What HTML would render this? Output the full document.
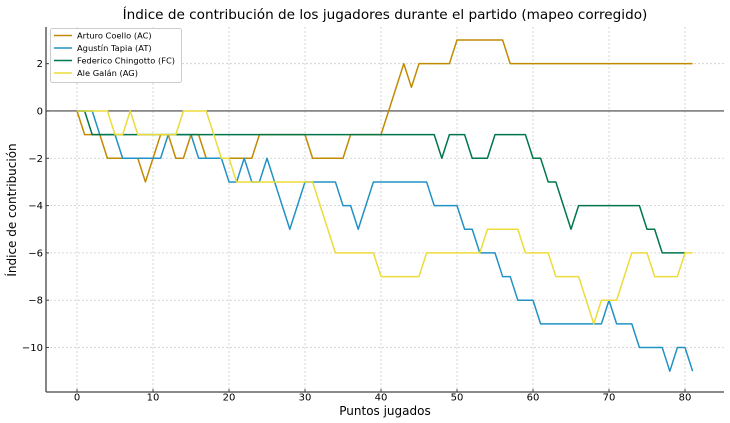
<!DOCTYPE html>
<html><head><meta charset="utf-8"><style>
body{margin:0;background:#fff;}
svg{display:block;font-family:"DejaVu Sans","Liberation Sans",sans-serif;}
</style></head><body>
<svg id="chart" width="730" height="423" viewBox="0 0 730 423">
<text x="385" y="19" text-anchor="middle" font-size="13.6" fill="#000">Índice de contribución de los jugadores durante el partido (mapeo corregido)</text>
<g id="grid"></g>
<g id="axes"></g>
<g id="series"></g>
<text x="385" y="415" text-anchor="middle" font-size="12">Puntos jugados</text>
<text transform="translate(16,210) rotate(-90)" text-anchor="middle" font-size="12">Índice de contribución</text>
<g id="legend"></g>
</svg>
<script>
const xTicks = [0,10,20,30,40,50,60,70,80];
const yTicks = [2,0,-2,-4,-6,-8,-10];
const seriesNames = ["Arturo Coello (AC)","Agustín Tapia (AT)","Federico Chingotto (FC)","Ale Galán (AG)"];
const acValues = [0,-1,-1,-1,-2,-2,-2,-2,-2,-3,-2,-1,-1,-2,-2,-1,-1,-2,-2,-2,-2,-2,-2,-2,-1,-1,-1,-1,-1,-1,-1,-2,-2,-2,-2,-2,-1,-1,-1,-1,-1,0,1,2,1,2,2,2,2,2,3,3,3,3,3,3,3,2,2,2,2,2,2,2,2,2,2,2,2,2,2,2,2,2,2,2,2,2,2,2,2,2];
const atValues = [0,0,0,-1,-1,-1,-2,-2,-2,-2,-2,-2,-1,-1,-1,-1,-2,-2,-2,-2,-3,-3,-2,-3,-3,-2,-3,-4,-5,-4,-3,-3,-3,-3,-3,-4,-4,-5,-4,-3,-3,-3,-3,-3,-3,-3,-3,-4,-4,-4,-4,-5,-5,-6,-6,-6,-7,-7,-8,-8,-8,-9,-9,-9,-9,-9,-9,-9,-9,-9,-8,-9,-9,-9,-10,-10,-10,-10,-11,-10,-10,-11];
const fcValues = [0,0,-1,-1,-1,-1,-1,-1,-1,-1,-1,-1,-1,-1,-1,-1,-1,-1,-1,-1,-1,-1,-1,-1,-1,-1,-1,-1,-1,-1,-1,-1,-1,-1,-1,-1,-1,-1,-1,-1,-1,-1,-1,-1,-1,-1,-1,-1,-2,-1,-1,-1,-2,-2,-2,-1,-1,-1,-1,-1,-2,-2,-3,-3,-4,-5,-4,-4,-4,-4,-4,-4,-4,-4,-4,-5,-5,-6,-6,-6,-6];
const agValues = [0,0,0,0,0,-1,-1,0,-1,-1,-1,-1,-1,-1,0,0,0,0,-1,-2,-2,-3,-3,-3,-3,-3,-3,-3,-3,-3,-3,-3,-4,-5,-6,-6,-6,-6,-6,-6,-7,-7,-7,-7,-7,-7,-6,-6,-6,-6,-6,-6,-6,-6,-5,-5,-5,-5,-5,-6,-6,-6,-6,-7,-7,-7,-7,-8,-9,-8,-8,-8,-7,-6,-6,-6,-7,-7,-7,-7,-6,-6];
const allSeries = [acValues, atValues, fcValues, agValues];
const colors = ["#c08b00","#2192c4","#00774a","#ecdc3a"];
const NS="http://www.w3.org/2000/svg";
const L=46,R=724,T=27,B=392;
const xMin=-4.08,xMax=85.13,yMin=-11.88,yMax=3.55;
function sx(v){return L+(v-xMin)/(xMax-xMin)*(R-L);}
function sy(v){return B-(v-yMin)/(yMax-yMin)*(B-T);}
function mk(tag,attrs,parent){const e=document.createElementNS(NS,tag);for(const k in attrs)e.setAttribute(k,attrs[k]);parent.appendChild(e);return e;}
const grid=document.getElementById('grid'),axes=document.getElementById('axes'),ser=document.getElementById('series'),leg=document.getElementById('legend');
xTicks.forEach(t=>{
 const g=mk('line',{x1:sx(t),x2:sx(t),y1:T,y2:B,stroke:'#ccc','stroke-dasharray':'2,2','stroke-width':0.8},grid);
 
 
 const tk=mk('line',{x1:sx(t),x2:sx(t),y1:B-3,y2:B,stroke:'#444'},axes);
 
 
 const lb=mk('text',{x:sx(t),y:B+8.5,'text-anchor':'middle','font-size':10},axes);
 lb.textContent=t;
 
 
});
yTicks.forEach(t=>{
 const g=mk('line',{x1:L,x2:R,y1:sy(t),y2:sy(t),stroke:'#ccc','stroke-dasharray':'2,2','stroke-width':0.8},grid);
 
 
 const tk=mk('line',{x1:L,x2:L+3,y1:sy(t),y2:sy(t),stroke:'#444'},axes);
 
 
 const lb=mk('text',{x:L-3,y:sy(t)+3.5,'text-anchor':'end','font-size':10},axes);
 lb.textContent=t<0?'\u2212'+Math.abs(t):t;
 
 
});
const zl=mk('line',{x1:L,x2:R,y1:sy(0),y2:sy(0),stroke:'#111','stroke-width':0.9},axes);


const ax1=mk('line',{x1:L,x2:L,y1:T,y2:B,stroke:'#444','stroke-width':1.3},axes);


const ax2=mk('line',{x1:L,x2:R,y1:B,y2:B,stroke:'#444','stroke-width':1.3},axes);


allSeries.forEach((vals,si)=>{
 const p=mk('polyline',{points:vals.map((v,i)=>sx(i)+','+sy(v)).join(' '),fill:'none',stroke:colors[si],'stroke-width':1.5,'stroke-linejoin':'round'},ser);
 
 
});
const box=mk('rect',{x:50.5,y:28.5,width:131,height:54,rx:2,fill:'#fff',stroke:'#ccc'},leg);


seriesNames.forEach((n,i)=>{
 const y=35.5+i*12.5;
 const ln=mk('line',{x1:54,x2:72,y1:y,y2:y,stroke:colors[i],'stroke-width':1.5},leg);
 
 
 const t=mk('text',{x:77,y:y+3,'font-size':8.3},leg);
 t.textContent=n;
 
 
});
</script>
</body></html>
